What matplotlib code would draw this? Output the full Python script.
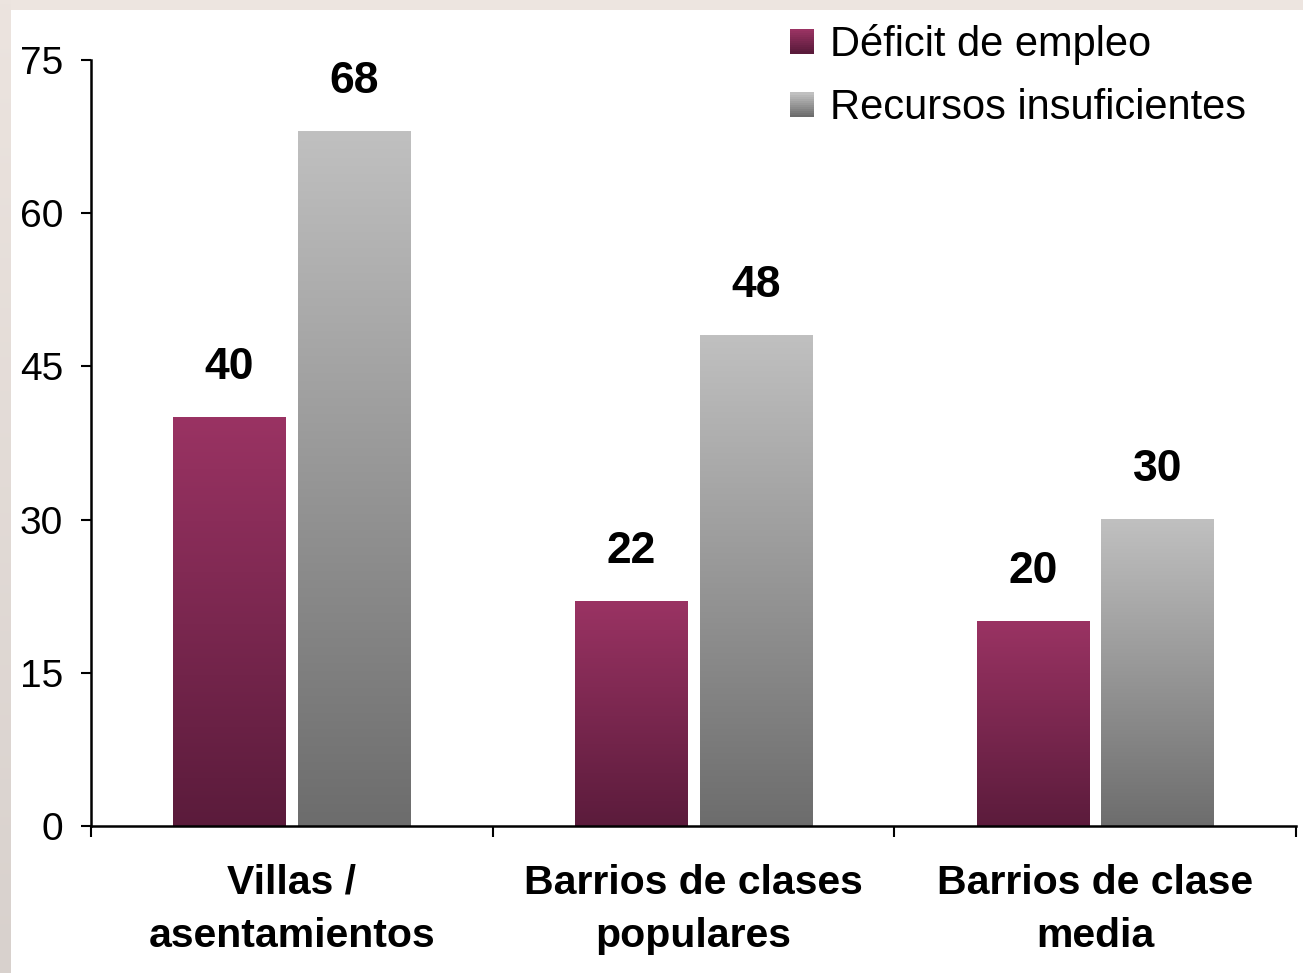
import numpy as np
import matplotlib
matplotlib.use("Agg")
import matplotlib.pyplot as plt
from matplotlib.patches import Rectangle
from matplotlib.legend_handler import HandlerBase
from matplotlib.colors import LinearSegmentedColormap

categories = ["Villas /\nasentamientos", "Barrios de clases\npopulares", "Barrios de clase\nmedia"]
series_names = ["Déficit de empleo", "Recursos insuficientes"]
deficit_empleo = [40, 22, 20]
recursos_insuf = [68, 48, 30]
yticks = [0, 15, 30, 45, 60, 75]

plt.rcParams['font.family'] = ['Liberation Sans', 'DejaVu Sans']

cmap_red = LinearSegmentedColormap.from_list("r", ["#5A1B3B", "#9A3363"])
cmap_gray = LinearSegmentedColormap.from_list("g", ["#6C6C6C", "#C0C0C0"])

fig = plt.figure(figsize=(13.03, 9.73), dpi=100)
fig.patch.set_facecolor("white")

# beige frame (top and left)
bt = fig.add_axes([0, 1 - 10 / 973, 1, 10 / 973])
bt.set_axis_off()
bt.add_patch(Rectangle((0, 0), 1, 1, transform=bt.transAxes, color="#EDE5E0"))
bl = fig.add_axes([0, 0, 11 / 1303, 1])
bl.set_axis_off()
grad = np.linspace(0, 1, 256).reshape(-1, 1)
bl.imshow(grad, aspect="auto", extent=[0, 1, 0, 1],
          cmap=LinearSegmentedColormap.from_list("b", ["#D8D1CD", "#ECE4DF"]), origin="lower")

ax = fig.add_axes([91 / 1303, 1 - 826 / 973, (1296 - 91) / 1303, (826 - 60) / 973])
x = np.arange(len(categories))
w = 0.28
off = 0.155

bars1 = ax.bar(x - off, deficit_empleo, w, color="none", edgecolor="none", label=series_names[0])
bars2 = ax.bar(x + off, recursos_insuf, w, color="none", edgecolor="none", label=series_names[1])

for bars, cm in ((bars1, cmap_red), (bars2, cmap_gray)):
    for b in bars:
        x0, y0, bw, bh = b.get_x(), b.get_y(), b.get_width(), b.get_height()
        ax.imshow(grad, aspect="auto", cmap=cm, origin="lower",
                  extent=[x0, x0 + bw, y0 - 0.4, y0 + bh], zorder=1)
        ax.annotate(f"{int(bh)}", (x0 + bw / 2, y0 + bh), xytext=(0, 36),
                    textcoords="offset points", ha="center", va="center",
                    fontsize=32, fontweight="bold")

ax.set_xlim(-0.5, len(categories) - 0.5)
ax.set_ylim(0, 75)
ax.set_yticks(yticks)
ax.set_yticklabels([str(t) for t in yticks], fontsize=28)
ax.tick_params(axis="y", direction="out", length=7, width=1.5, pad=13)

ax.set_xticks(np.arange(-0.5, len(categories), 1.0))
ax.set_xticklabels([])
ax.tick_params(axis="x", which="major", direction="out", length=8, width=1.5)
ax.set_xticks(x, minor=True)
ax.set_xticklabels(categories, minor=True, fontsize=29.5, fontweight="bold", linespacing=1.52)
ax.tick_params(axis="x", which="minor", length=0, pad=27)

for s in ["top", "right"]:
    ax.spines[s].set_visible(False)
for s in ["left", "bottom"]:
    ax.spines[s].set_linewidth(1.8)
    ax.spines[s].set_zorder(3)
ax.set_aspect("auto")


class GradHandler(HandlerBase):
    def __init__(self, cm):
        super().__init__()
        self.cm = cm

    def create_artists(self, legend, orig_handle, xdescent, ydescent, width, height, fontsize, trans):
        n = 12
        side = width
        arts = []
        for i in range(n):
            r = Rectangle((-xdescent, -ydescent + (height - side) / 2 + side * i / n), side, side / n + 0.3,
                          facecolor=self.cm(i / (n - 1)), edgecolor="none", transform=trans)
            arts.append(r)
        return arts


leg = fig.legend([bars1, bars2], series_names, loc="upper left",
                 bbox_to_anchor=(790 / 1303, 1 - 24 / 973), frameon=False, fontsize=30,
                 handlelength=0.58, handletextpad=0.38, labelspacing=0.56, borderpad=0,
                 borderaxespad=0,
                 handler_map={bars1: GradHandler(cmap_red), bars2: GradHandler(cmap_gray)})

fig.savefig("out.png", dpi=100, facecolor="white")
